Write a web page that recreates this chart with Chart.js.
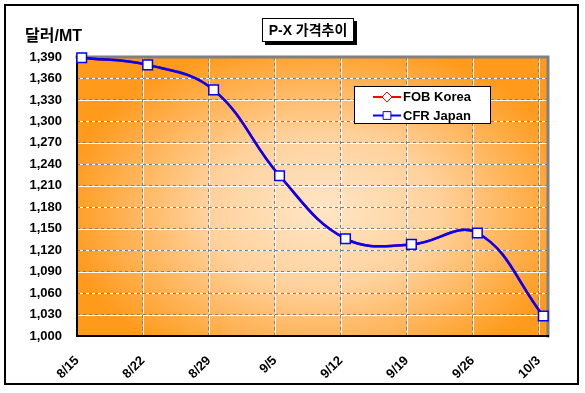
<!DOCTYPE html>
<html>
<head>
<meta charset="utf-8">
<script src="https://cdn.jsdelivr.net/npm/chart.js@4/dist/chart.umd.min.js"></script>
<style>
  html, body { margin: 0; padding: 0; background: #fff; }
</style>
</head>
<body>
<canvas id="chart" width="585" height="393"></canvas>
<script>
const xLabels = ['8/15', '8/22', '8/29', '9/5', '9/12', '9/19', '9/26', '10/3'];
const fobKorea = [1389, 1379, 1344, 1224, 1136, 1128, 1144, 1028];
const cfrJapan = [1389, 1379, 1344, 1224, 1136, 1128, 1144, 1028];
const seriesNames = ['FOB Korea', 'CFR Japan'];
const yMin = 1000, yMax = 1390, yStep = 30;
const daysPerWeek = 7;
const axisDays = 50;

const FONT = '"Liberation Sans", Arial, "Noto Sans CJK KR", sans-serif';

// data points sit in the middle of their day slot, like a date axis
const toPoints = arr => arr.map((v, i) => ({ x: i * daysPerWeek + 0.5, y: v }));

const plotBackground = {
    id: 'plotBackground',
    beforeDraw(chart) {
        const { ctx, chartArea: a, scales } = chart;
        const cx = a.left + (a.right - a.left) * 0.52;
        const cy = a.top + (a.bottom - a.top) * 0.55;
        const rx = (a.right - a.left) * 0.55;
        const ry = (a.bottom - a.top) * 0.62;
        ctx.save();
        ctx.beginPath();
        ctx.rect(a.left, a.top, a.right - a.left, a.bottom - a.top);
        ctx.clip();
        ctx.translate(cx, cy);
        ctx.scale(rx / ry, 1);
        const g = ctx.createRadialGradient(0, 0, 0, 0, 0, ry);
        g.addColorStop(0, '#FFE6C6');
        g.addColorStop(0.45, '#FFD19C');
        g.addColorStop(1, '#FF9A1C');
        ctx.fillStyle = g;
        ctx.fillRect(-2000, -2000, 4000, 4000);
        ctx.restore();
        // white under the dashed grey grid
        ctx.save();
        ctx.strokeStyle = '#fff';
        ctx.lineWidth = 1;
        ctx.beginPath();
        scales.y.ticks.forEach(t => {
            const y = Math.round(scales.y.getPixelForValue(t.value)) + 0.5;
            ctx.moveTo(a.left, y); ctx.lineTo(a.right, y);
        });
        scales.x.ticks.forEach(t => {
            const x = Math.round(scales.x.getPixelForValue(t.value)) + 0.5;
            ctx.moveTo(x, a.top); ctx.lineTo(x, a.bottom);
        });
        ctx.stroke();
        ctx.restore();
    },
    beforeDatasetsDraw(chart) {
        const { ctx, chartArea: a } = chart;
        ctx.save();
        ctx.lineCap = 'square';
        ctx.strokeStyle = '#808080';
        ctx.lineWidth = 3;
        ctx.beginPath();
        ctx.moveTo(a.left, a.top); ctx.lineTo(a.right, a.top); ctx.lineTo(a.right, a.bottom);
        ctx.stroke();
        ctx.strokeStyle = '#000';
        ctx.lineWidth = 2;
        ctx.beginPath();
        ctx.moveTo(a.left, a.top); ctx.lineTo(a.left, a.bottom); ctx.lineTo(a.right, a.bottom);
        ctx.stroke();
        ctx.restore();
    }
};

const decorations = {
    id: 'decorations',
    afterDraw(chart) {
        const ctx = chart.ctx;
        ctx.save();
        // outer frame
        ctx.strokeStyle = '#000';
        ctx.lineWidth = 2;
        ctx.strokeRect(5, 5, 573, 379);

        // title box with shadow
        ctx.fillStyle = '#000';
        ctx.fillRect(265, 21, 92, 24);
        ctx.fillStyle = '#fff';
        ctx.fillRect(262, 18, 92, 24);
        ctx.lineWidth = 1;
        ctx.strokeRect(262.5, 18.5, 91, 23);
        ctx.fillStyle = '#000';
        ctx.font = 'bold 14px ' + FONT;
        ctx.textAlign = 'center';
        ctx.textBaseline = 'middle';
        ctx.fillText('P-X 가격추이', 308, 31);

        // y axis unit
        ctx.font = 'bold 16px ' + FONT;
        ctx.textAlign = 'left';
        ctx.fillText('달러/MT', 25, 37);

        // legend
        ctx.fillStyle = '#fff';
        ctx.fillRect(354, 86, 137, 38);
        ctx.strokeStyle = '#000';
        ctx.lineWidth = 1;
        ctx.strokeRect(354.5, 86.5, 136, 37);
        ctx.font = 'bold 13px ' + FONT;
        chart.data.datasets.forEach((ds, i) => {
            const y = 97 + i * 18.5;
            ctx.strokeStyle = ds.borderColor;
            ctx.lineWidth = 2;
            ctx.beginPath();
            ctx.moveTo(373, y); ctx.lineTo(401, y);
            ctx.stroke();
            ctx.fillStyle = '#fff';
            ctx.strokeStyle = ds.borderColor;
            ctx.lineWidth = 1;
            Chart.helpers.drawPoint(ctx, {
                pointStyle: ds.pointStyle,
                radius: ds.pointStyle === 'rect' ? 5.5 : 5,
                rotation: 0,
                borderWidth: 1
            }, 387, y);
            ctx.fillStyle = '#000';
            ctx.textAlign = 'left';
            ctx.textBaseline = 'middle';
            ctx.fillText(ds.label, 403, y + 0.5);
        });
        ctx.restore();
    }
};

new Chart(document.getElementById('chart'), {
    type: 'line',
    data: {
        datasets: [
            {
                label: seriesNames[0],
                data: toPoints(fobKorea),
                borderColor: '#FF0000',
                backgroundColor: '#FFFFFF',
                borderWidth: 2.5,
                pointStyle: 'rectRot',
                pointRadius: 5,
                pointBorderWidth: 1,
                tension: 0.4,
                clip: false,
                order: 2
            },
            {
                label: seriesNames[1],
                data: toPoints(cfrJapan),
                borderColor: '#0000FF',
                backgroundColor: '#FFFFFF',
                borderWidth: 2.5,
                pointStyle: 'rect',
                pointRadius: 6.8,
                pointBorderWidth: 1.5,
                tension: 0.4,
                clip: false,
                order: 1
            }
        ]
    },
    options: {
        responsive: false,
        animation: false,
        layout: { padding: { left: 0, top: 57, right: 37, bottom: 0 } },
        plugins: {
            legend: { display: false },
            title: { display: false },
            tooltip: { enabled: false }
        },
        scales: {
            x: {
                type: 'linear',
                min: 0,
                max: axisDays,
                afterBuildTicks: s => {
                    s.ticks = xLabels.map((_, i) => ({ value: i * daysPerWeek }));
                },
                afterFit: s => { s.height = 57; },
                grid: { color: '#808080', drawTicks: false, lineWidth: 1 },
                border: { display: false, dash: [3, 3] },
                ticks: {
                    autoSkip: false,
                    minRotation: 45,
                    maxRotation: 45,
                    padding: 17,
                    color: '#000',
                    font: { family: FONT, size: 13, weight: 'bold' },
                    callback: v => xLabels[Math.round(v / daysPerWeek)]
                }
            },
            y: {
                min: yMin,
                max: yMax,
                afterFit: s => { s.width = 77; },
                grid: { color: '#808080', drawTicks: false, lineWidth: 1 },
                border: { display: false, dash: [3, 3] },
                ticks: {
                    stepSize: yStep,
                    padding: 15,
                    color: '#000',
                    font: { family: FONT, size: 13, weight: 'bold' },
                    callback: v => v.toLocaleString('en-US')
                }
            }
        }
    },
    plugins: [plotBackground, decorations]
});
</script>
</body>
</html>
